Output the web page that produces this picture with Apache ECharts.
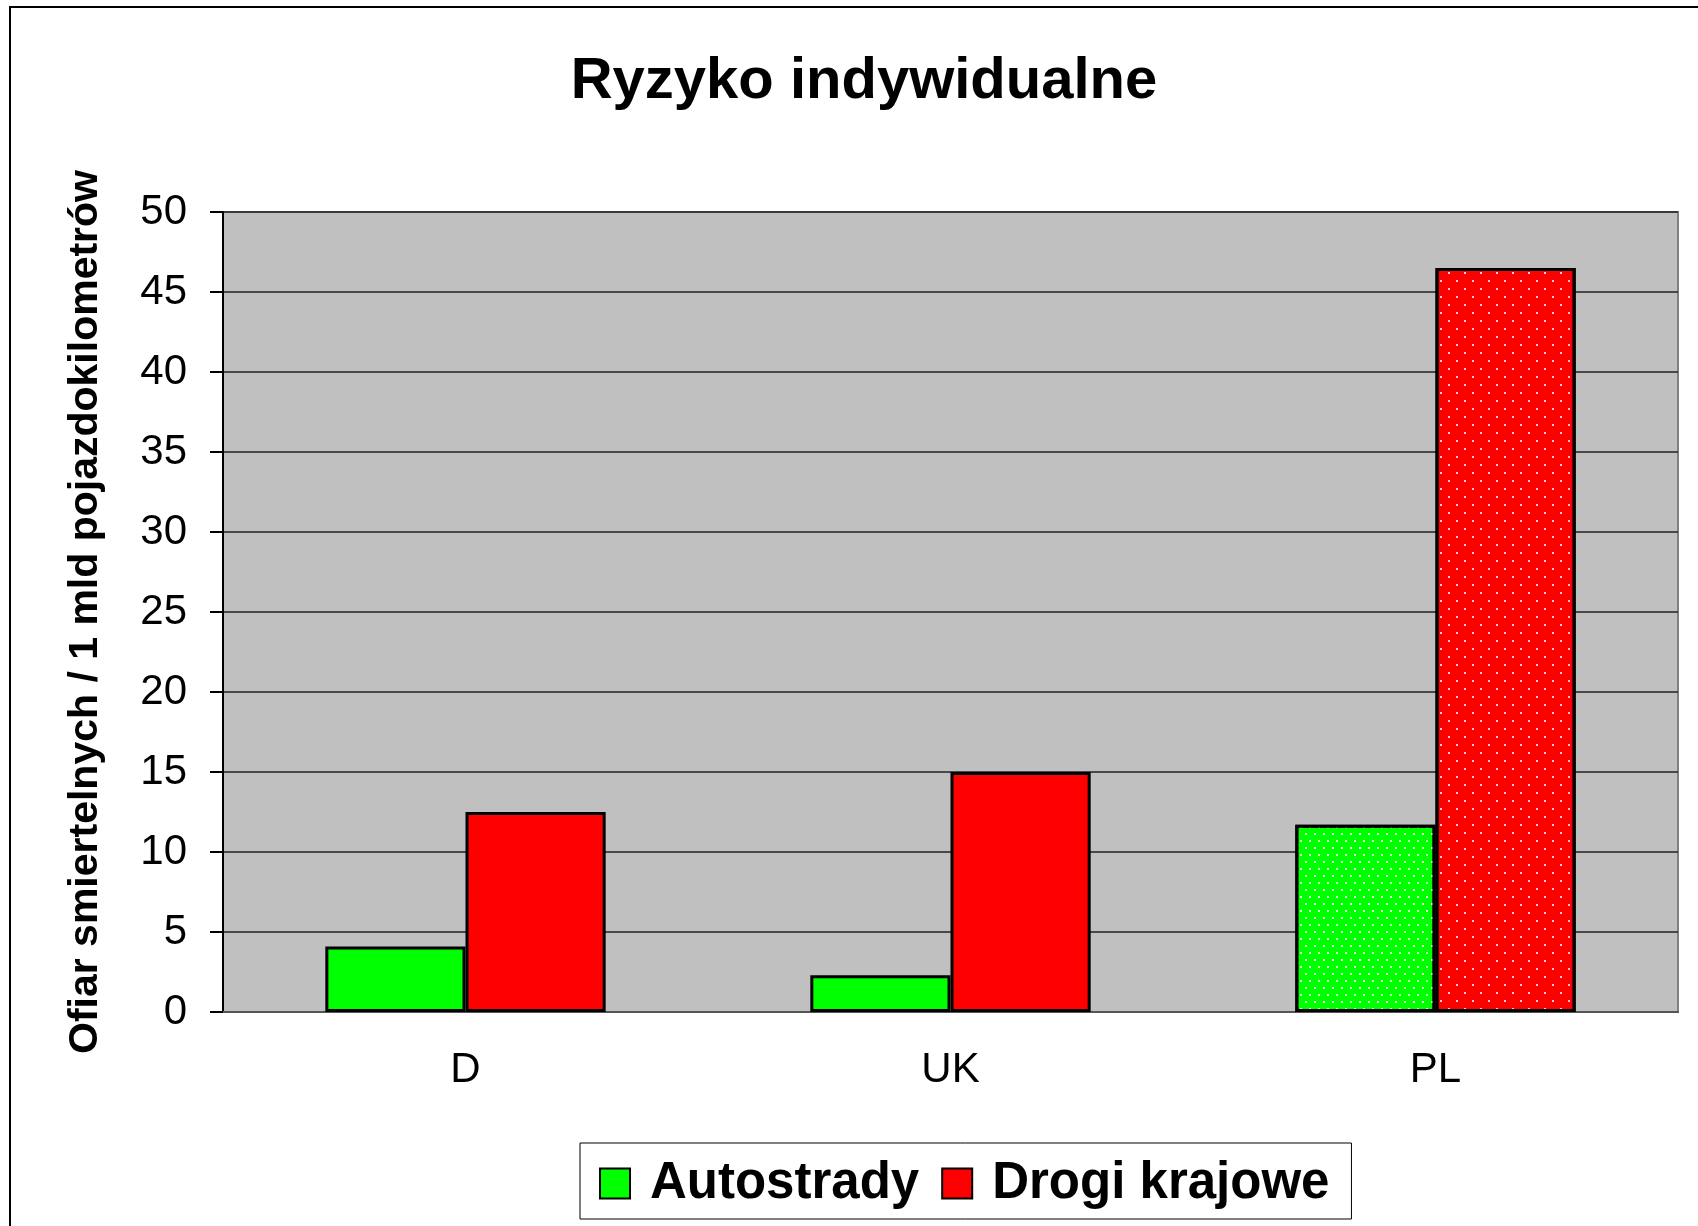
<!DOCTYPE html>
<html>
<head>
<meta charset="utf-8">
<script src="https://cdn.jsdelivr.net/npm/echarts@6/dist/echarts.min.js"></script>
<style>
  html, body { margin: 0; padding: 0; background: #fff; }
  #chart { width: 1698px; height: 1226px; }
</style>
</head>
<body>
<div id="chart"></div>
<script>
// dane
const countries = ['D', 'UK', 'PL'];
const autostrady = [4.1, 2.3, 11.7];
const drogiKrajowe = [12.5, 15.0, 46.5];
const seriesNames = ['Autostrady', 'Drogi krajowe'];

const font = '"Liberation Sans", Arial, sans-serif';

// kropki tylko na słupkach PL
const greenDots = {
  symbol: 'rect', symbolSize: 1, color: 'rgba(255,255,255,0.85)',
  dashArrayX: [[1.5, 6.2], [0, 3.85, 1.5, 2.35]], dashArrayY: [1.5, 4.3], rotation: 0
};
const redDots = {
  symbol: 'rect', symbolSize: 1, color: 'rgba(255,255,255,0.85)',
  dashArrayX: [[2, 13.3], [0, 7.65, 2, 5.65]], dashArrayY: [2, 5.65], rotation: 0
};

function withPattern (values, decal) {
  return values.map((v, i) => countries[i] === 'PL' ? { value: v, itemStyle: { decal: decal } } : v);
}

const chart = echarts.init(document.getElementById('chart'));
const option = {
  backgroundColor: '#fff',
  animation: false,
  textStyle: { fontFamily: font, color: '#000' },
  title: {
    text: 'Ryzyko indywidualne',
    left: 859,
    textAlign: 'center',
    top: 48,
    textStyle: { fontSize: 58, fontWeight: 'bold', color: '#000', fontFamily: font }
  },
  graphic: [{
    type: 'rect',
    shape: { x: 10, y: 7, width: 1700, height: 1230 },
    style: { fill: 'none', stroke: '#000', lineWidth: 2 },
    silent: true
  }],
  legend: {
    data: seriesNames,
    icon: 'rect',
    left: 580,
    top: 1143,
    padding: [15, 22, 10, 19],
    itemWidth: 30,
    itemHeight: 30,
    itemGap: 22,
    borderColor: '#000',
    borderWidth: 1,
    backgroundColor: '#fff',
    itemStyle: { borderColor: '#000', borderWidth: 2 },
    textStyle: { fontSize: 51, fontWeight: 'bold', color: '#000', fontFamily: font, padding: [0, 0, 0, 15] }
  },
  grid: {
    left: 223,
    right: 20,
    top: 212,
    bottom: 214,
    show: true,
    backgroundColor: '#c0c0c0',
    borderColor: '#808080',
    borderWidth: 2
  },
  xAxis: {
    type: 'category',
    data: countries,
    axisLine: { lineStyle: { color: '#555', width: 2 } },
    axisTick: { length: 13, lineStyle: { color: '#666', width: 2 } },
    axisLabel: { fontSize: 42, color: '#000', margin: 37, fontFamily: font }
  },
  yAxis: {
    type: 'value',
    min: 0,
    max: 50,
    interval: 5,
    name: 'Ofiar smiertelnych / 1 mld pojazdokilometrów',
    nameLocation: 'middle',
    nameGap: 117,
    nameTextStyle: { fontSize: 41, fontWeight: 'bold', color: '#000', fontFamily: font },
    axisLine: { show: true, lineStyle: { color: '#000', width: 2 } },
    axisTick: { show: true, length: 13, lineStyle: { color: '#000', width: 2 } },
    axisLabel: { fontSize: 42, color: '#000', margin: 36, fontFamily: font },
    splitLine: { lineStyle: { color: '#222', width: 1.5 } }
  },
  series: [
    {
      name: seriesNames[0],
      type: 'bar',
      data: withPattern(autostrady, greenDots),
      barWidth: '28.9%',
      barGap: '0%',
      itemStyle: { color: '#00ff00', borderColor: '#000', borderWidth: 3 }
    },
    {
      name: seriesNames[1],
      type: 'bar',
      data: withPattern(drogiKrajowe, redDots),
      barWidth: '28.9%',
      barGap: '0%',
      itemStyle: { color: '#ff0000', borderColor: '#000', borderWidth: 3 }
    }
  ]
};
chart.setOption(option);
window.onresize = chart.resize;
</script>
</body>
</html>
